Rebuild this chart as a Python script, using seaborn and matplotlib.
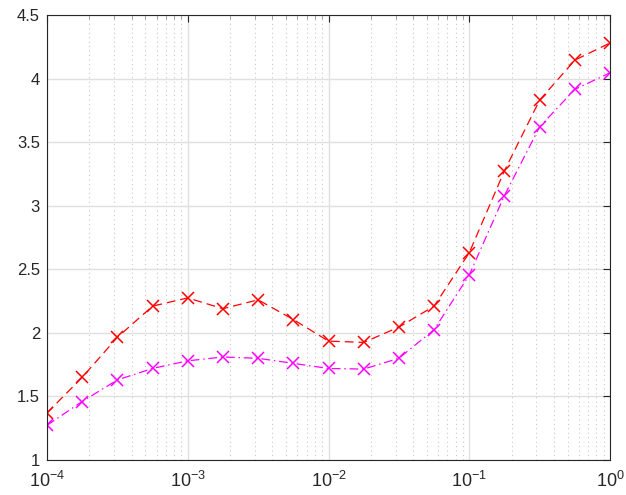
import numpy as np
import pandas as pd
import matplotlib
matplotlib.use("Agg")
import matplotlib.pyplot as plt
import seaborn as sns
from matplotlib.ticker import LogLocator, NullFormatter

# data
x_exp = [-4, -3.75, -3.5, -3.25, -3, -2.75, -2.5, -2.25, -2,
         -1.75, -1.5, -1.25, -1, -0.75, -0.5, -0.25, 0]
red_vals = [1.37, 1.65, 1.965, 2.21, 2.275, 2.19, 2.26, 2.105, 1.935,
            1.925, 2.045, 2.21, 2.63, 3.275, 3.83, 4.145, 4.28]
magenta_vals = [1.273, 1.46, 1.63, 1.72, 1.78, 1.81, 1.80, 1.76, 1.72,
                1.715, 1.80, 2.025, 2.455, 3.08, 3.62, 3.915, 4.045]
y_ticks = [1, 1.5, 2, 2.5, 3, 3.5, 4, 4.5]
y_tick_labels = ["1", "1.5", "2", "2.5", "3", "3.5", "4", "4.5"]

x = [10 ** e for e in x_exp]
df = pd.DataFrame({"x": x, "red": red_vals, "magenta": magenta_vals})

sns.set_style("white")
plt.rcParams['font.family'] = ['Liberation Sans', 'DejaVu Sans']
plt.rcParams['mathtext.fontset'] = 'custom'
plt.rcParams['mathtext.rm'] = 'Liberation Sans'
plt.rcParams['mathtext.it'] = 'Liberation Sans'

fig = plt.figure(figsize=(6.26, 4.95), dpi=100)
ax = fig.add_axes([47 / 626, 35 / 495, 563 / 626, 445 / 495])

sns.lineplot(data=df, x="x", y="red", ax=ax, color="#ff0000", linestyle=(0, (7, 4)),
             marker="x", markersize=8, markeredgewidth=1.1, markeredgecolor="#ff0000",
             linewidth=0.9)
sns.lineplot(data=df, x="x", y="magenta", ax=ax, color="#ff00ff", linestyle=(0, (7, 3, 1.2, 3)),
             marker="x", markersize=8, markeredgewidth=1.1, markeredgecolor="#ff00ff",
             linewidth=0.9)

ax.set_xscale("log")
ax.set_xlim(1e-4, 1)
ax.set_ylim(1, 4.5)
ax.set_yticks(y_ticks)
ax.set_yticklabels(y_tick_labels)
ax.set_xticks([1e-4, 1e-3, 1e-2, 1e-1, 1])
ax.set_xticklabels([r"$10^{-4}$", r"$10^{-3}$", r"$10^{-2}$", r"$10^{-1}$", r"$10^{0}$"])
ax.xaxis.set_minor_locator(LogLocator(base=10, subs=np.arange(2, 10), numticks=20))
ax.xaxis.set_minor_formatter(NullFormatter())
ax.set_xlabel("")
ax.set_ylabel("")

ax.grid(True, which="major", color="#e0e0e0", linewidth=1.0, linestyle="-")
ax.grid(True, which="minor", axis="x", color="#c8c8c8", linewidth=0.8, linestyle=(0, (1, 3)))
ax.set_axisbelow(True)

for s in ax.spines.values():
    s.set_color("#262626")
    s.set_linewidth(0.8)
    s.set_visible(True)
ax.tick_params(which="both", direction="in", top=True, right=True, colors="#262626",
               labelsize=12, labelcolor="#262626")
ax.tick_params(axis="y", pad=5)
ax.tick_params(axis="x", labelsize=13, pad=8)
ax.tick_params(which="major", length=5)
ax.tick_params(which="minor", length=3, colors="#8c8c8c")

fig.savefig("out.png", dpi=100)
